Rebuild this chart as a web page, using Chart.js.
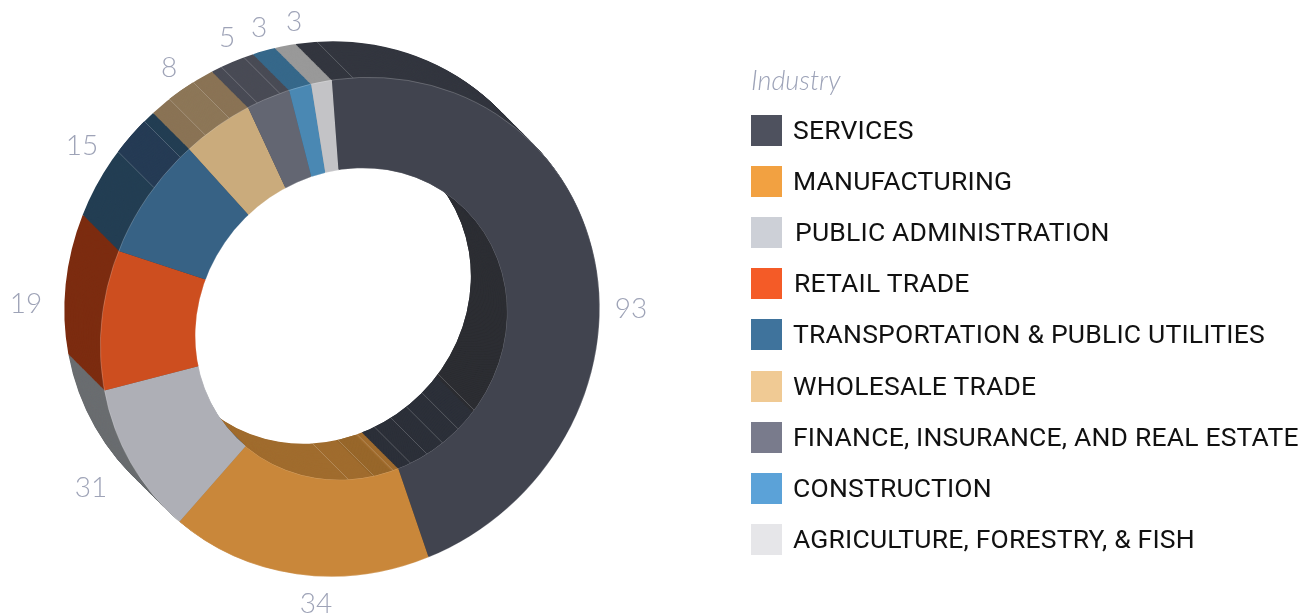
<!DOCTYPE html>
<html>
<head>
<meta charset="utf-8">
<title>Industry</title>
<script src="https://cdn.jsdelivr.net/npm/chart.js@4"></script>
<style>
    html, body { margin: 0; padding: 0; background: #fff; }
    #wrap { position: relative; width: 1312px; height: 614px; overflow: hidden; }
    #ringChart { position: absolute; left: 0; top: 0; }
    #legendTitle { position: absolute; left: 751px; top: 63px; font: italic 300 27px Lato, sans-serif; color: #9da3b8; }
    .legendItem { position: absolute; left: 751px; height: 31px; }
    .legendItem i { position: absolute; left: 0; top: 0; width: 31px; height: 31px; }
    .legendItem span { position: absolute; left: 42px; top: -1px; white-space: nowrap; color: #111;
        font: 26.5px/31px Roboto, sans-serif; letter-spacing: 0.2px; }
</style>
</head>
<body>
<div id="wrap">
    <canvas id="ringChart" width="1312" height="614"></canvas>
    <div id="legendTitle">Industry</div>
</div>
<script>
const industries = ['SERVICES', 'MANUFACTURING', 'PUBLIC ADMINISTRATION', 'RETAIL TRADE', 'TRANSPORTATION & PUBLIC UTILITIES',
    'WHOLESALE TRADE', 'FINANCE, INSURANCE, AND REAL ESTATE', 'CONSTRUCTION', 'AGRICULTURE, FORESTRY, & FISH'];
// The numbers printed next to the ring
const printedCounts = [93, 34, 31, 19, 15, 8, 5, 3, 3];
// The drawn slices don't follow the printed numbers exactly, so these are read off the arcs (degrees)
const sliceSpans = [165.83, 61.42, 36.55, 32.47, 27.77, 16.04, 9.99, 5.14, 4.79];

const faceColors = ['#41444f', '#c9873a', '#aeafb6', '#cd4e1f', '#376285', '#caab7c', '#636672', '#4a88b3', '#c3c3c6'];
const wallColors = ['#33363f', '#a06c2e', '#6a6d70', '#7c2c10', '#233e53', '#8a7355', '#494b55', '#36688a', '#999999'];
const legendColors = ['#4e515e', '#f2a141', '#cdd0d7', '#f45b27', '#3f739c', '#f0ca94', '#797b8c', '#5ba2d8', '#e6e6e9'];

// Side wall pieces that are shaded differently from the rest of their slice: from deg, to deg, colour
const wallFacets = [[45, 125.7, '#2b2c30'], [125.7, 159.5, '#2b2f38'], [162.2, 169.4, '#96662a'], [306.1, 315, '#263b55'], [322.4, 328.9, '#8d7758']];
// Faint ribs on the side wall, in degrees clockwise from the top
const outerRibs = [358.5, 306.1, 315, 322.4, 328.9, 336, 341.5];
const innerRibs = [125.7, 134.5, 141.9, 148.7, 155.4, 162.2, 169.4, 178.8];

const depth = 37.5;
// The ring is seen a little from the side: stretched along one diagonal and squashed along the other
const stretch = 1.036;
const squash = 0.96;
// The hole sits slightly off the centre of the ring in the picture
const holeShift = { x: 1, y: -3 };
const holeRadius = 156;
const toRad = deg => (deg - 90) * Math.PI / 180;

const clipHole = (ctx, x, y) => {
    ctx.beginPath();
    ctx.rect(-500, -500, 2400, 1700);
    ctx.arc(x + holeShift.x, y + holeShift.y, holeRadius, 0, Math.PI * 2);
    ctx.clip('evenodd');
};

// Tilt the ring and draw its extruded side by repeating the arcs towards the upper left
const ringPlugin = {
    id: 'ringSide',
    beforeDatasetsDraw: (chart) => {
        const ctx = chart.ctx;
        const arcs = chart.getDatasetMeta(0).data;
        const { x, y, outerRadius } = arcs[0];
        const same = (stretch + squash) / 2;
        const cross = (squash - stretch) / 2;
        ctx.save();
        ctx.translate(x, y);
        ctx.transform(same, cross, cross, same, 0, 0);
        ctx.translate(-x, -y);

        const paint = (arc, color, extra) => {
            const piece = Object.assign(Object.create(arc), extra, {
                options: { backgroundColor: color, borderWidth: 0, borderColor: color, borderAlign: 'center', borderRadius: 0, offset: 0, spacing: 0, circular: true }
            });
            arc.draw.call(piece, ctx);
        };
        for (let d = depth; d > 0; d -= 0.75) {
            ctx.save();
            ctx.translate(-d, -d);
            clipHole(ctx, x, y);
            arcs.forEach((arc, i) => paint(arc, wallColors[i], {}));
            wallFacets.forEach(([from, to, color]) => {
                paint(arcs[0], color, { startAngle: toRad(from), endAngle: toRad(to), circumference: toRad(to) - toRad(from) });
            });
            ctx.restore();
        }

        const rib = (deg, cx, cy, r) => {
            const px = cx + r * Math.cos(toRad(deg));
            const py = cy + r * Math.sin(toRad(deg));
            ctx.moveTo(px, py);
            ctx.lineTo(px - depth, py - depth);
        };
        ctx.strokeStyle = 'rgba(255, 255, 255, 0.25)';
        ctx.lineWidth = 0.8;
        ctx.beginPath();
        outerRibs.forEach(deg => rib(deg, x, y, outerRadius));
        innerRibs.forEach(deg => rib(deg, x + holeShift.x, y + holeShift.y, holeRadius));
        ctx.stroke();

        // the chart's own arcs come next, with the same hole cut out
        clipHole(ctx, x, y);
    },
    afterDatasetsDraw: (chart) => {
        const ctx = chart.ctx;
        const { x, y, outerRadius } = chart.getDatasetMeta(0).data[0];
        // thin light rim where the face meets the wall
        ctx.strokeStyle = 'rgba(255, 255, 255, 0.3)';
        ctx.lineWidth = 0.7;
        ctx.beginPath();
        ctx.arc(x, y, outerRadius, 0, Math.PI * 2);
        ctx.stroke();
        ctx.beginPath();
        ctx.arc(x + holeShift.x, y + holeShift.y, holeRadius, 0, Math.PI * 2);
        ctx.stroke();
        ctx.restore();
    }
};

// Printed numbers around the ring
const countSpots = [[631, 309], [316, 604], [91, 488], [26, 304], [82, 146], [169, 68], [227, 38], [259, 28], [294, 22]];
const countPlugin = {
    id: 'ringCounts',
    afterDraw: (chart) => {
        const ctx = chart.ctx;
        ctx.save();
        ctx.font = '300 28px Lato, sans-serif';
        ctx.fillStyle = '#9ea3b7';
        ctx.textAlign = 'center';
        ctx.textBaseline = 'middle';
        printedCounts.forEach((n, i) => ctx.fillText(n, countSpots[i][0], countSpots[i][1]));
        ctx.restore();
    }
};

new Chart(document.getElementById('ringChart').getContext('2d'), {
    type: 'doughnut',
    data: {
        labels: industries,
        datasets: [{
            data: sliceSpans,
            backgroundColor: faceColors,
            borderWidth: 0,
            clip: false
        }]
    },
    options: {
        responsive: false,
        animation: false,
        rotation: -6.35,
        cutout: '50%', // real hole is cut by clipHole
        layout: { padding: { left: 100, right: 712, top: 77, bottom: 37 } },
        plugins: { legend: { display: false }, tooltip: { enabled: false } }
    },
    plugins: [ringPlugin, countPlugin]
});

// Legend
const wrap = document.getElementById('wrap');
const textNudge = { 2: 2, 3: 1 };
industries.forEach((name, i) => {
    const item = document.createElement('div');
    item.className = 'legendItem';
    item.style.top = (115 + i * 51.1) + 'px';
    const swatch = document.createElement('i');
    swatch.style.background = legendColors[i];
    const text = document.createElement('span');
    text.textContent = name;
    text.style.left = (42 + (textNudge[i] || 0)) + 'px';
    item.append(swatch, text);
    wrap.appendChild(item);
});
</script>
</body>
</html>
